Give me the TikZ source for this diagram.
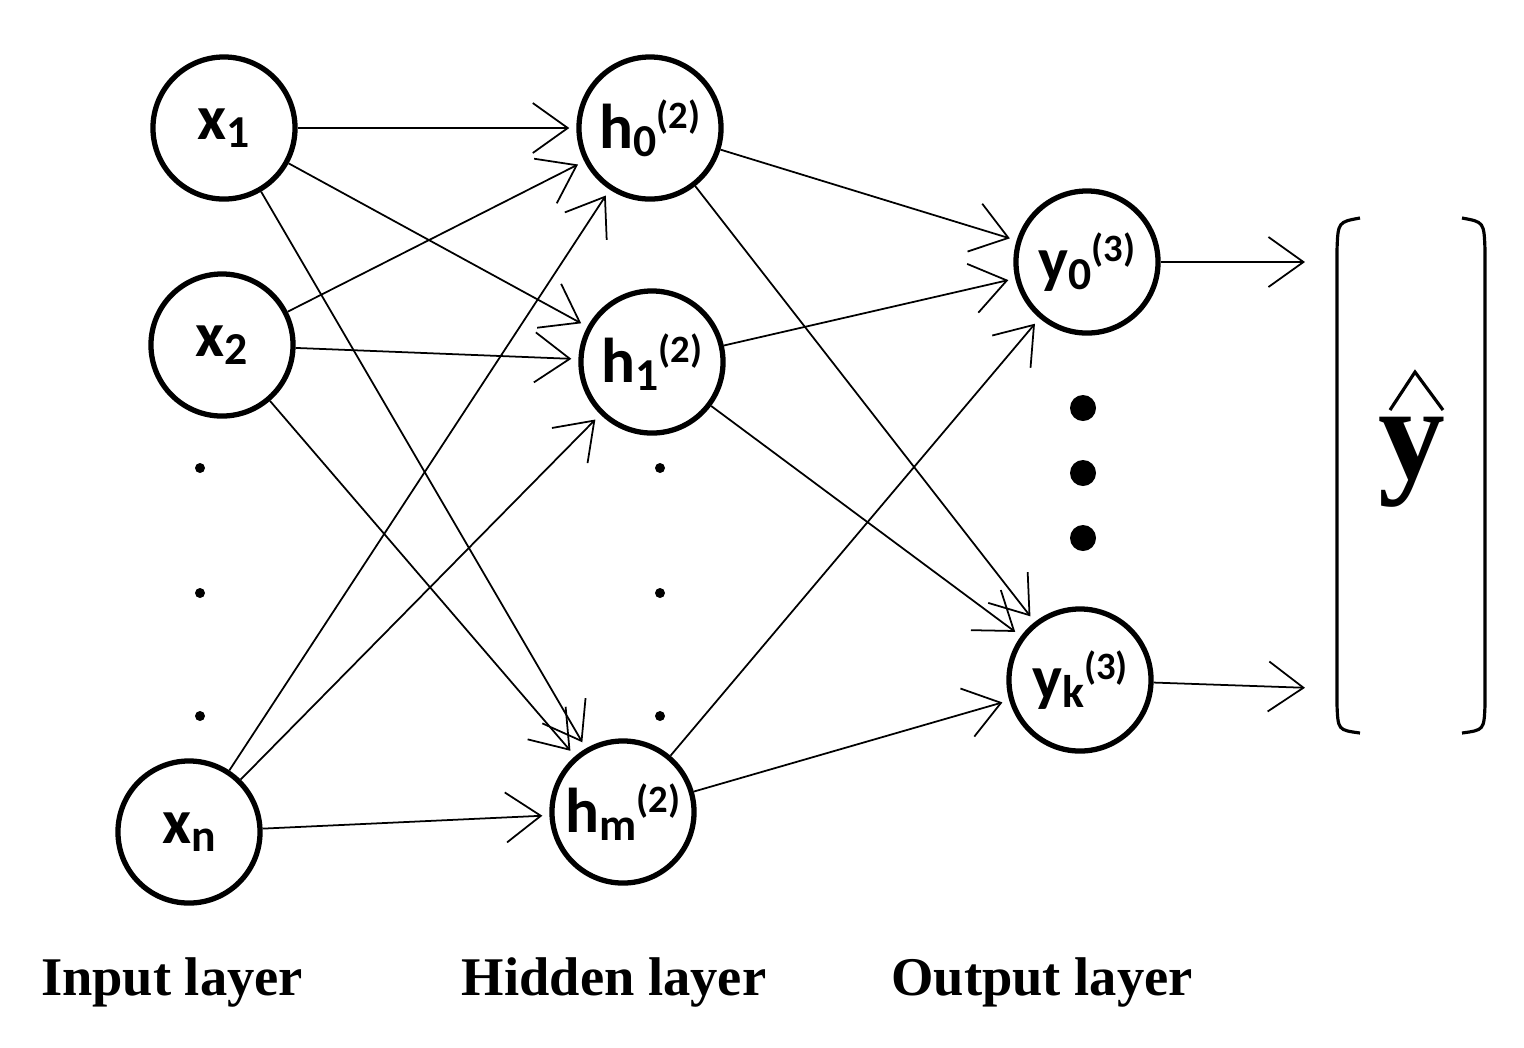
\documentclass[tikz,border=0pt]{standalone}
\usepackage{fontspec}
\setmainfont{Liberation Serif}
\newfontfamily\nodefont{Carlito}
\usetikzlibrary{arrows.meta, positioning}
\newcommand{\lbl}[3]{#1{\fontsize{13}{13}\selectfont\raisebox{-0.35ex}{#2}\raisebox{0.9ex}{\fontsize{11}{11}\selectfont#3}}}
\begin{document}
\begin{tikzpicture}[x=0.01cm, y=-0.01cm, >={Straight Barb[length=3.5mm,width=5mm]},
  neuron/.style={circle, draw, line width=1.5pt, minimum size=1.42cm, inner sep=0pt, font=\nodefont\bfseries\fontsize{18}{20}\selectfont},
  link/.style={->, line width=0.5pt, shorten >=2pt},
  layer/.style={font=\bfseries\fontsize{15.5}{18}\selectfont}]

	\useasboundingbox (0,0) rectangle (1524,1047);

	% Input layer
	\node[neuron] (x1) at (224,128) {\lbl{x}{1}{}};
	\node[neuron] (x2) at (222,345) {\lbl{x}{2}{}};
	\node[neuron] (xn) at (189,832) {\lbl{x}{n}{}};

	% Hidden layer
	\node[neuron] (h0) at (650,128) {\lbl{h}{0}{(2)}};
	\node[neuron] (h1) at (652,362) {\lbl{h}{1}{(2)}};
	\node[neuron] (hm) at (623,812) {\lbl{h}{m}{(2)}};

	% Output layer
	\node[neuron] (y0) at (1087,262) {\lbl{y}{0}{(3)}};
	\node[neuron] (yk) at (1080,680) {\lbl{y}{k}{(3)}};

	% Dots
	\foreach \yy in {468,593,716} {
		\fill (200,\yy) circle (5);
		\fill (660,\yy) circle (5);
	}
	\foreach \yy in {408,473,538}
		\fill (1083,\yy) circle (13);

	% Connections
	\foreach \i in {x1,x2,xn}
		\foreach \j in {h0,h1,hm}
			\draw[link] (\i) -- (\j);
	\foreach \i in {h0,h1,hm}
		\foreach \j in {y0,yk}
			\draw[link] (\i) -- (\j);

	% Output vector
	\coordinate (o0) at (1312,262);
	\coordinate (ok) at (1312,688);
	\draw[link] (y0) -- (o0);
	\draw[link] (yk) -- (ok);
	\draw[line width=0.9pt] (1360,218) .. controls (1338,222) .. (1337,250) -- (1337,705) .. controls (1338,730) .. (1360,733);
	\draw[line width=0.9pt] (1462,218) .. controls (1484,222) .. (1485,250) -- (1485,705) .. controls (1484,730) .. (1462,733);
	\node[font=\bfseries\fontsize{38}{40}\selectfont] (yhat) at (1412,462) {y};
	\draw[line width=0.9pt] (1390,410) -- (1415,372) -- (1443,410);

	% Layer labels
	\node[layer] (in) at (172,982) {Input layer};
	\node[layer] (hid) at (614,982) {Hidden layer};
	\node[layer] (out) at (1042,982) {Output layer};

\end{tikzpicture}
\end{document}
